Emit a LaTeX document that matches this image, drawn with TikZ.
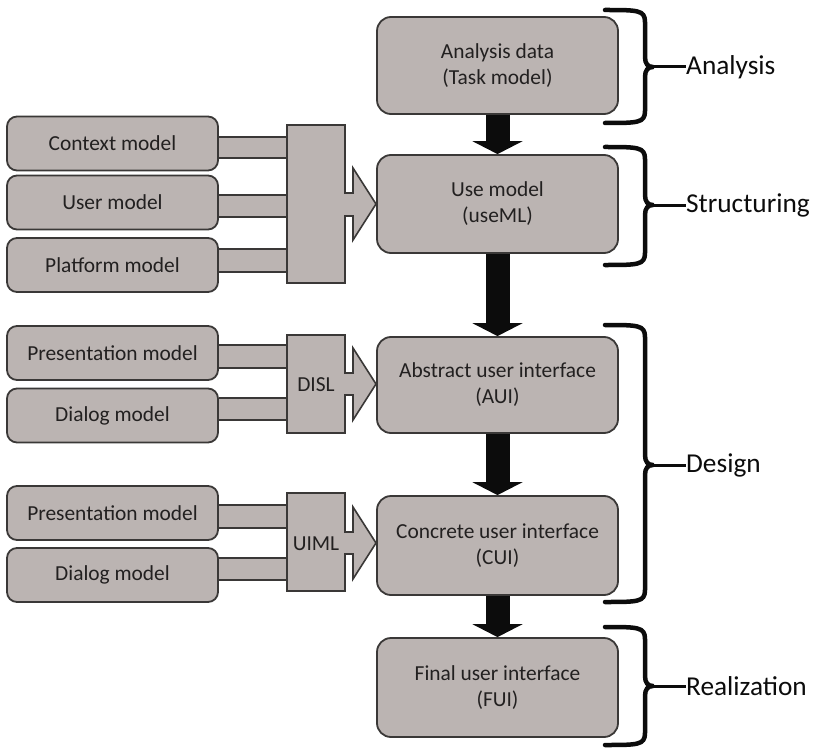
\documentclass[tikz,border=0pt]{standalone}
\usepackage{fontspec}
\setmainfont{Carlito}
\usetikzlibrary{arrows.meta,backgrounds}
\definecolor{boxfill}{RGB}{187,180,178}
\definecolor{boxline}{RGB}{58,56,55}
\definecolor{txt}{RGB}{34,32,32}
\definecolor{arrowblack}{RGB}{12,12,12}
\newcommand{\phasebrace}[5]{%
  \draw[bracestyle] (605,#1) .. controls (638,#1) and (645,#1) .. (645,#1+12)
     -- (645,#2-10) .. controls (645,#2-3) and (648,#2) .. (653,#2)
     .. controls (648,#2) and (645,#2+3) .. (645,#2+10)
     -- (645,#3-12) .. controls (645,#3) and (638,#3) .. (605,#3);
  \coordinate (#4tip) at (652,#2);
  \node[phaselabel] (#4) at (686,#2) {#5};
  \draw[line width=3pt, arrowblack] (#4tip) -- (#4.west);
}
\newcommand{\sidebar}[4]{%
  \fill[boxfill] (#1.east |- 0,#3) rectangle (#2.west |- 0,#4);
  \draw[barline] (#1.east |- 0,#3) -- (#2.west |- 0,#3);
  \draw[barline] (#1.east |- 0,#4) -- (#2.west |- 0,#4);
}
\begin{document}
\begin{tikzpicture}[x=1pt,y=-1pt,
  mainbox/.style={draw=boxline, line width=1.8pt, fill=boxfill, rounded corners=14pt,
    minimum width=241pt, align=center, text=txt, inner sep=0pt,
    font=\fontsize{21.4}{26}\selectfont},
  sidebox/.style={draw=boxline, line width=1.8pt, fill=boxfill, rounded corners=10pt,
    minimum width=211pt, minimum height=54pt, align=center, text=txt, inner sep=0pt,
    font=\fontsize{21.4}{26}\selectfont},
  blockshape/.style={draw=boxline, line width=1.6pt, fill=boxfill, line join=miter},
  barline/.style={draw=boxline, line width=1.6pt},
  bigarrow/.style={arrowblack, line width=24pt, -{Triangle[width=50pt,length=13pt]}},
  bracestyle/.style={draw=arrowblack, line width=4.5pt, line cap=round, line join=round},
  phaselabel/.style={anchor=west, inner sep=0pt, text=arrowblack,
    font=\fontsize{27.3}{30}\selectfont},
  blocklabel/.style={inner sep=0pt, text=txt, font=\fontsize{21.4}{26}\selectfont}
]
\useasboundingbox (0,0) rectangle (817,749);

% side boxes
\node[sidebox] (ctx)   at (112.5,143.5) {Context model};
\node[sidebox] (usr)   at (112.5,202.5) {User model};
\node[sidebox] (plat)  at (112.5,265)   {Platform model};
\node[sidebox] (pres1) at (112.5,353)   {Presentation model};
\node[sidebox] (dlg1)  at (112.5,415.5) {Dialog model};
\node[sidebox] (pres2) at (112.5,513)   {Presentation model};
\node[sidebox] (dlg2)  at (112.5,575)   {Dialog model};

% block arrows
\draw[blockshape] (287,125) -- (345,125) -- (345,193) -- (353,193) -- (353,168)
  -- (376,204) -- (353,240) -- (353,216) -- (345,216) -- (345,283) -- (287,283) -- cycle;
\coordinate (blk1) at (287,204);
\draw[blockshape] (287,335) -- (345,335) -- (345,373) -- (353,373) -- (353,348)
  -- (376,384) -- (353,420) -- (353,395) -- (345,395) -- (345,433) -- (287,433) -- cycle;
\coordinate (blk2) at (287,384);
\node[blocklabel] (disl) at (316,385) {DISL};
\draw[blockshape] (287,493) -- (345,493) -- (345,532) -- (353,532) -- (353,507)
  -- (376,543) -- (353,579) -- (353,554) -- (345,554) -- (345,591) -- (287,591) -- cycle;
\coordinate (blk3) at (287,543);
\node[blocklabel] (uiml) at (316,544) {UIML};

% bars behind boxes
\begin{scope}[on background layer]
\sidebar{ctx}{blk1}{137}{158}
\sidebar{usr}{blk1}{195}{217}
\sidebar{plat}{blk1}{249}{272}
\sidebar{pres1}{blk2}{345}{368}
\sidebar{dlg1}{blk2}{398}{420}
\sidebar{pres2}{blk3}{505}{528}
\sidebar{dlg2}{blk3}{558}{580}
\end{scope}

% main boxes
\node[mainbox, minimum height=97pt] (ana) at (497.5,65.5) {Analysis data\\(Task model)};
\node[mainbox, minimum height=98pt] (use) at (497.5,204) {Use model\\(useML)};
\node[mainbox, minimum height=96pt] (aui) at (497.5,385) {Abstract user interface\\(AUI)};
\node[mainbox, minimum height=99pt] (cui) at (497.5,545.5) {Concrete user interface\\(CUI)};
\node[mainbox, minimum height=99pt] (fui) at (497.5,687.5) {Final user interface\\(FUI)};

% big arrows
\draw[bigarrow] (ana.south) -- (use.north);
\draw[bigarrow] (use.south) -- (aui.north);
\draw[bigarrow] (aui.south) -- (cui.north);
\draw[bigarrow] (cui.south) -- (fui.north);

% braces
\phasebrace{10}{67}{123}{lana}{Analysis}
\phasebrace{147}{205}{265}{lstr}{Structuring}
\phasebrace{325}{465}{602}{ldes}{Design}
\phasebrace{627}{686}{745}{lrea}{Realization}
\end{tikzpicture}
\end{document}
